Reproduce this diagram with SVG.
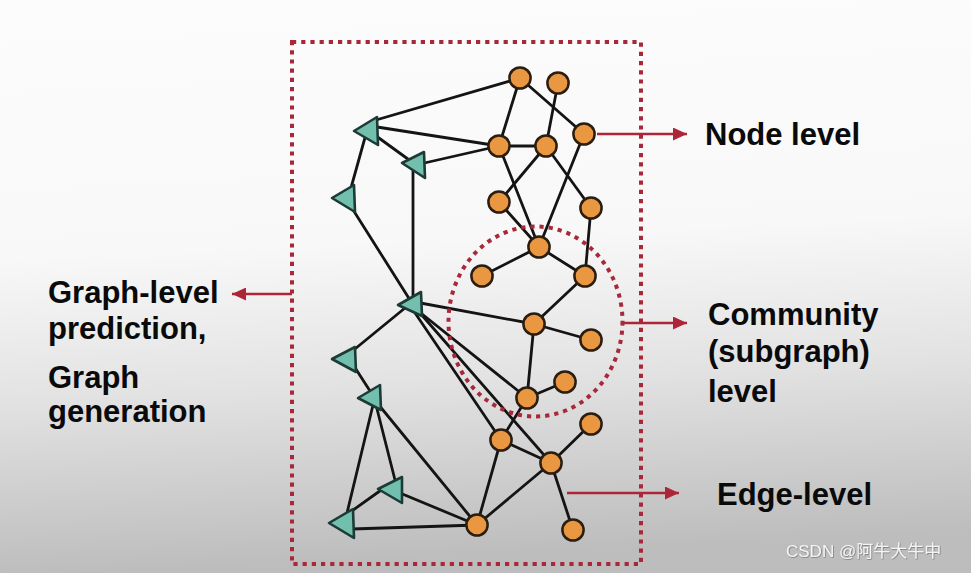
<svg xmlns="http://www.w3.org/2000/svg" width="971" height="573" viewBox="0 0 971 573">
<defs>
<linearGradient id="bg" x1="0" y1="0" x2="0.08" y2="1">
<stop offset="0" stop-color="#fcfcfc"/>
<stop offset="0.45" stop-color="#f8f8f8"/>
<stop offset="0.7" stop-color="#e2e2e2"/>
<stop offset="1" stop-color="#bdbdbd"/>
</linearGradient>
<marker id="ah" markerUnits="userSpaceOnUse" markerWidth="15" markerHeight="13" refX="14" refY="6.5" orient="auto">
<path d="M0,0 L14,6.5 L0,13 z" fill="#ac2637"/>
</marker>
<filter id="sh" x="-5%" y="-20%" width="110%" height="140%">
<feDropShadow dx="0.6" dy="0.6" stdDeviation="0.5" flood-color="#555" flood-opacity="0.8"/>
</filter>
</defs>
<style>
.e{stroke:#141414;stroke-width:2.8;fill:none;stroke-linecap:round}
.n{fill:#e99741;stroke:#2b1d10;stroke-width:2.5}
.t{fill:#72bfae;stroke:#1d3a36;stroke-width:2.6;stroke-linejoin:round}
.dash{fill:none;stroke:#a8283a;stroke-width:4;stroke-dasharray:4.2 5}
.arr{stroke:#ac2637;stroke-width:2.5;fill:none;marker-end:url(#ah)}
.lbl{font-family:"Liberation Sans",Arial,sans-serif;font-weight:bold;font-size:31px;fill:#0a0a0a}
.wm{font-family:"Liberation Sans","Noto Sans CJK SC",sans-serif;font-size:17px;fill:#f4f4f4}
</style>
<rect x="0" y="0" width="971" height="573" fill="url(#bg)"/>

<g id="edges">
<line class="e" x1="520" y1="78" x2="376" y2="120"/>
<line class="e" x1="499" y1="146" x2="377" y2="127"/>
<line class="e" x1="372" y1="133" x2="412" y2="162"/>
<line class="e" x1="499" y1="146" x2="420" y2="164"/>
<line class="e" x1="366" y1="134" x2="349" y2="195"/>
<line class="e" x1="413" y1="168" x2="413" y2="300"/>
<line class="e" x1="350" y1="205" x2="410" y2="300"/>
<line class="e" x1="415" y1="302" x2="534" y2="324"/>
<line class="e" x1="412" y1="306" x2="527" y2="398"/>
<line class="e" x1="411" y1="307" x2="501" y2="440"/>
<line class="e" x1="413" y1="305" x2="551" y2="463"/>
<line class="e" x1="405" y1="308" x2="350" y2="353"/>
<line class="e" x1="352" y1="363" x2="370" y2="391"/>
<line class="e" x1="376" y1="405" x2="395" y2="480"/>
<line class="e" x1="373" y1="405" x2="347" y2="513"/>
<line class="e" x1="378" y1="404" x2="477" y2="525"/>
<line class="e" x1="384" y1="488" x2="349" y2="513"/>
<line class="e" x1="400" y1="493" x2="477" y2="525"/>
<line class="e" x1="352" y1="529" x2="477" y2="525"/>
<line class="e" x1="520" y1="78" x2="499" y2="146"/>
<line class="e" x1="520" y1="78" x2="584" y2="134"/>
<line class="e" x1="558" y1="83" x2="546" y2="146"/>
<line class="e" x1="499" y1="146" x2="546" y2="146"/>
<line class="e" x1="499" y1="146" x2="539" y2="247"/>
<line class="e" x1="546" y1="146" x2="499" y2="202"/>
<line class="e" x1="546" y1="146" x2="591" y2="208"/>
<line class="e" x1="584" y1="134" x2="539" y2="247"/>
<line class="e" x1="499" y1="202" x2="539" y2="247"/>
<line class="e" x1="591" y1="208" x2="585" y2="276"/>
<line class="e" x1="539" y1="247" x2="482" y2="276"/>
<line class="e" x1="539" y1="247" x2="585" y2="276"/>
<line class="e" x1="585" y1="276" x2="534" y2="324"/>
<line class="e" x1="534" y1="324" x2="591" y2="340"/>
<line class="e" x1="534" y1="324" x2="527" y2="398"/>
<line class="e" x1="527" y1="398" x2="565" y2="382"/>
<line class="e" x1="527" y1="398" x2="501" y2="440"/>
<line class="e" x1="501" y1="440" x2="551" y2="463"/>
<line class="e" x1="501" y1="440" x2="477" y2="525"/>
<line class="e" x1="551" y1="463" x2="591" y2="424"/>
<line class="e" x1="551" y1="463" x2="477" y2="525"/>
<line class="e" x1="551" y1="463" x2="573" y2="530"/>
</g>

<g id="T1"><polygon class="t" points="354,131 377,117 378,145"/></g>
<g id="T2"><polygon class="t" points="402,163 424,152 425,178"/></g>
<g id="T3"><polygon class="t" points="332,198 354,185 355,212"/></g>
<g id="T4"><polygon class="t" points="398,305 421,292 422,316"/></g>
<g id="T5"><polygon class="t" points="332,359 355,347 356,372"/></g>
<g id="T6"><polygon class="t" points="358,398 380,385 381,410"/></g>
<g id="T7"><polygon class="t" points="378,489 402,477 402,503"/></g>
<g id="T8"><polygon class="t" points="329,523 353,509 354,538"/></g>

<g id="nA"><circle class="n" cx="520" cy="78" r="10.6"/></g>
<g id="nB"><circle class="n" cx="558" cy="83" r="10.6"/></g>
<g id="nC"><circle class="n" cx="499" cy="146" r="10.6"/></g>
<g id="nD"><circle class="n" cx="546" cy="146" r="10.6"/></g>
<g id="nE"><circle class="n" cx="584" cy="134" r="10.6"/></g>
<g id="nF"><circle class="n" cx="499" cy="202" r="10.6"/></g>
<g id="nG"><circle class="n" cx="591" cy="208" r="10.6"/></g>
<g id="nH"><circle class="n" cx="539" cy="247" r="10.6"/></g>
<g id="nI"><circle class="n" cx="482" cy="276" r="10.6"/></g>
<g id="nJ"><circle class="n" cx="585" cy="276" r="10.6"/></g>
<g id="nK"><circle class="n" cx="534" cy="324" r="10.6"/></g>
<g id="nL"><circle class="n" cx="591" cy="340" r="10.6"/></g>
<g id="nM"><circle class="n" cx="565" cy="382" r="10.6"/></g>
<g id="nN"><circle class="n" cx="527" cy="398" r="10.6"/></g>
<g id="nO"><circle class="n" cx="591" cy="424" r="10.6"/></g>
<g id="nP"><circle class="n" cx="501" cy="440" r="10.6"/></g>
<g id="nQ"><circle class="n" cx="551" cy="463" r="10.6"/></g>
<g id="nR"><circle class="n" cx="477" cy="525" r="10.6"/></g>
<g id="nS"><circle class="n" cx="573" cy="530" r="10.6"/></g>

<g id="graph-box"><rect class="dash" x="292" y="42" width="349" height="522"/></g>
<g id="community"><ellipse class="dash" cx="535.5" cy="321.5" rx="87" ry="95"/></g>

<g id="arrows">
<line class="arr" x1="597" y1="134" x2="687" y2="134"/>
<line class="arr" x1="623" y1="323" x2="687" y2="323"/>
<line class="arr" x1="567" y1="493" x2="679" y2="493"/>
<line class="arr" x1="292" y1="294" x2="232" y2="294"/>
</g>

<g id="labels">
<text class="lbl" x="705" y="145">Node level</text>
<text class="lbl" x="708" y="325">Community</text>
<text class="lbl" x="708" y="362">(subgraph)</text>
<text class="lbl" x="708" y="402">level</text>
<text class="lbl" x="717" y="505">Edge-level</text>
<text class="lbl" x="48" y="303">Graph-level</text>
<text class="lbl" x="48" y="339">prediction,</text>
<text class="lbl" x="48" y="388">Graph</text>
<text class="lbl" x="48" y="422">generation</text>
</g>
<text class="wm" x="786" y="557" filter="url(#sh)">CSDN @阿牛大牛中</text>
</svg>
